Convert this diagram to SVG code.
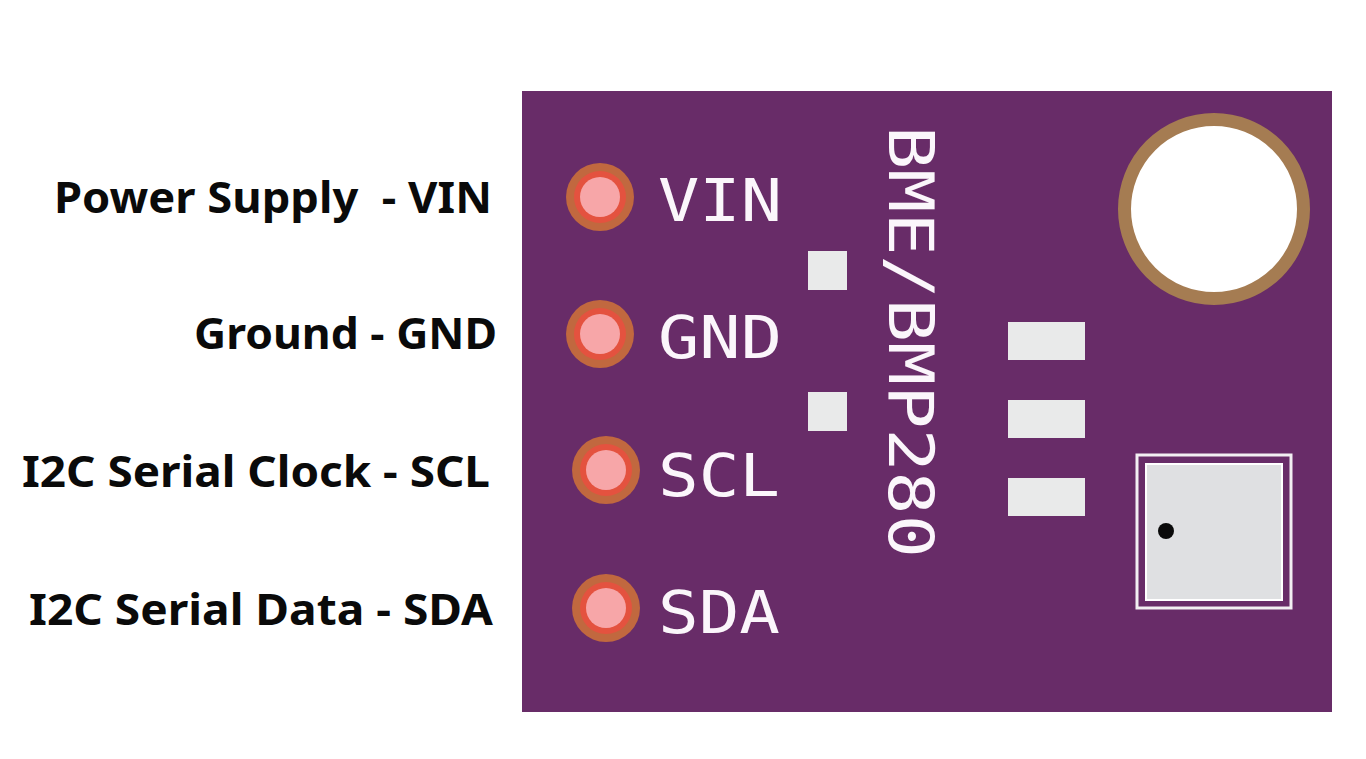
<svg xmlns="http://www.w3.org/2000/svg" width="1366" height="759" viewBox="0 0 1366 759">
<style>
.lbl{font-family:"Noto Sans","DejaVu Sans",sans-serif;font-weight:700;font-size:43px;fill:#0a0a0a;white-space:pre}
.silk{font-family:"DejaVu Sans Mono","Liberation Mono",monospace;font-size:58px;fill:#fbf6fb}
.ring{fill:#c1683f}.cu{fill:#e4523f}.core{fill:#f7a6a8}
.pad{fill:#e9eaea}
</style>
<rect width="1366" height="759" fill="#fff"/>
<rect id="board" x="522" y="91" width="810" height="621" fill="#682c68"/>
<g id="pin-vin"><circle class="ring" cx="600" cy="197" r="34"/><circle class="cu" cx="600" cy="197" r="26"/><circle class="core" cx="600" cy="197" r="20"/>
<text class="silk" x="658" y="221" textLength="124" lengthAdjust="spacingAndGlyphs">VIN</text></g>
<g id="pin-gnd"><circle class="ring" cx="600" cy="334" r="34"/><circle class="cu" cx="600" cy="334" r="26"/><circle class="core" cx="600" cy="334" r="20"/>
<text class="silk" x="658" y="358" textLength="124" lengthAdjust="spacingAndGlyphs">GND</text></g>
<g id="pin-scl"><circle class="ring" cx="606" cy="470" r="34"/><circle class="cu" cx="606" cy="470" r="26"/><circle class="core" cx="606" cy="470" r="20"/>
<text class="silk" x="658" y="496" textLength="122" lengthAdjust="spacingAndGlyphs">SCL</text></g>
<g id="pin-sda"><circle class="ring" cx="606" cy="608" r="34"/><circle class="cu" cx="606" cy="608" r="26"/><circle class="core" cx="606" cy="608" r="20"/>
<text class="silk" x="658" y="633" textLength="122" lengthAdjust="spacingAndGlyphs">SDA</text></g>
<g id="label-vin"><text class="lbl" x="492" y="213" text-anchor="end" textLength="438" lengthAdjust="spacingAndGlyphs">Power Supply  - VIN</text></g>
<g id="label-gnd"><text class="lbl" x="497" y="349" text-anchor="end" textLength="303" lengthAdjust="spacingAndGlyphs">Ground - GND</text></g>
<g id="label-scl"><text class="lbl" x="490" y="487" text-anchor="end" textLength="468" lengthAdjust="spacingAndGlyphs">I2C Serial Clock - SCL</text></g>
<g id="label-sda"><text class="lbl" x="493" y="625" text-anchor="end" textLength="464" lengthAdjust="spacingAndGlyphs">I2C Serial Data - SDA</text></g>
<g id="pads">
<rect class="pad" x="808" y="251" width="39" height="39"/>
<rect class="pad" x="808" y="392" width="39" height="39"/>
<rect class="pad" x="1008" y="322" width="77" height="38"/>
<rect class="pad" x="1008" y="400" width="77" height="38"/>
<rect class="pad" x="1008" y="478" width="77" height="38"/>
</g>
<g id="part-label"><text class="silk" style="font-size:62px" transform="translate(889,126) rotate(90)" x="0" y="0" textLength="432" lengthAdjust="spacingAndGlyphs">BME/BMP280</text></g>
<g id="mount-hole"><circle cx="1214" cy="209" r="89.500" fill="#fff" stroke="#a57c52" stroke-width="13"/></g>
<g id="sensor">
<rect x="1137" y="455" width="154" height="153" fill="none" stroke="#f2eff2" stroke-width="3"/>
<rect x="1146" y="464" width="136" height="136" fill="#dfe0e2" stroke="#fff" stroke-width="2"/>
<circle cx="1166" cy="531" r="8" fill="#0a0a0a"/>
</g>
</svg>
